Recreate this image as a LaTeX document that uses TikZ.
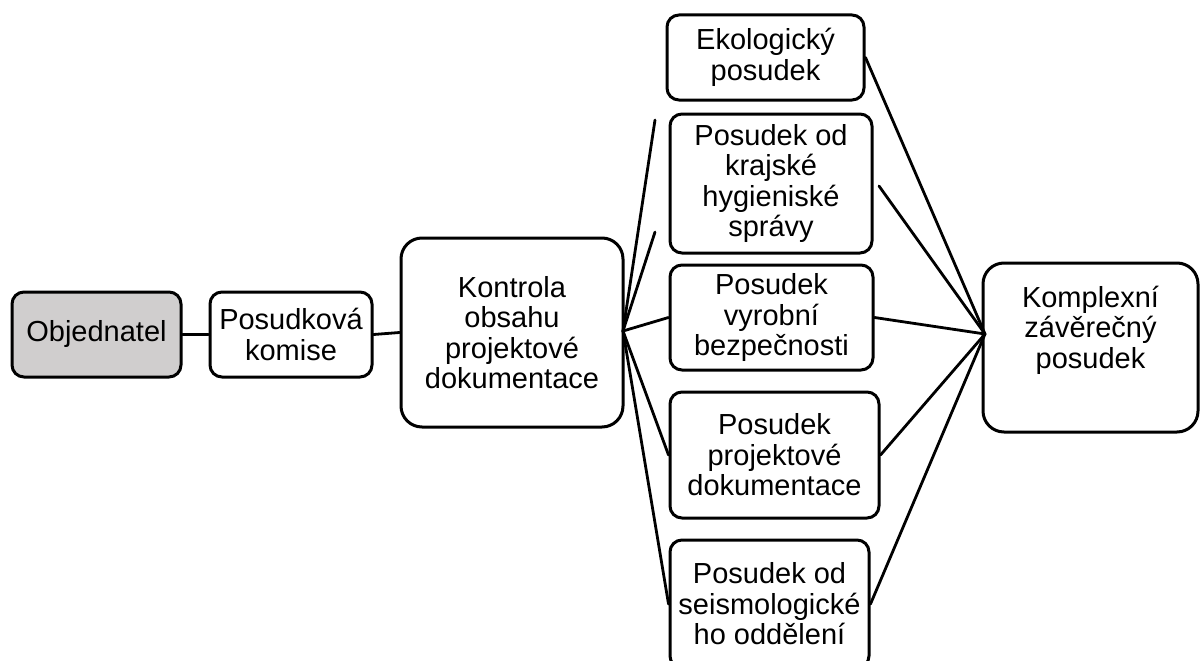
\documentclass[tikz,border=0pt]{standalone}
\usepackage{fontspec}
\setmainfont{Liberation Sans}
\begin{document}
\begin{tikzpicture}[x=1pt,y=-1pt,
  box/.style={draw=black, line width=3pt, rounded corners=12pt, fill=white,
    align=center, inner sep=0pt,
    font=\fontsize{29}{30.5}\selectfont},
  bigbox/.style={box, rounded corners=21pt},
  link/.style={line width=2.8pt, line cap=round}]
\useasboundingbox (0,0) rectangle (1200,661);
\clip (0,0) rectangle (1200,661);

% left chain
\node[box, fill={rgb,255:red,208;green,206;blue,206}, minimum width=169pt, minimum height=85pt]
  (obj) at (96.5,334.5) {Objednatel};
\node[box, minimum width=162pt, minimum height=85pt]
  (kom) at (291,334.5) {Posudková\\komise};
\node[bigbox, minimum width=222pt, minimum height=189pt]
  (kon) at (512,332.5) {Kontrola\\obsahu\\projektové\\dokumentace};

% column of partial reviews
\node[box, minimum width=197pt, minimum height=85pt]
  (eko) at (765.5,57.5) {Ekologický\\posudek};
\node[box, minimum width=202pt, minimum height=139pt]
  (kra) at (771,183.5) {Posudek od\\krajské\\hygieniské\\správy};
\node[box, minimum width=203pt, minimum height=105pt]
  (vyr) at (771.5,317.5) {Posudek\\vyrobní\\bezpečnosti};
\node[box, minimum width=209pt, minimum height=126pt]
  (pro) at (774.5,455) {Posudek\\projektové\\dokumentace};
\node[box, minimum width=199pt, minimum height=128pt]
  (sei) at (769.5,604) {Posudek od\\seismologické\\ho oddělení};

% final review
\node[bigbox, minimum width=215pt, minimum height=169pt]
  (cmp) at (1090.5,347.5) {Komplexní\\závěrečný\\posudek\\[10pt]};

% junction points and free line ends
\coordinate (hubL) at (623,331);
\coordinate (hubR) at (985,334);
\coordinate (kraL1) at (655,120);
\coordinate (kraL2) at (655,232);
\coordinate (kraR) at (879,186);

\draw[link] (obj.east) -- (kom.west);
\draw[link] (kom.east) -- (kon.west);

\draw[link] (hubL) -- (kraL1);
\draw[link] (hubL) -- (kraL2);
\draw[link] (hubL) -- (vyr.west);
\draw[link] (hubL) -- (pro.west);
\draw[link] (hubL) -- (sei.west);

\draw[link] (eko.east) -- (hubR);
\draw[link] (kraR) -- (hubR);
\draw[link] (vyr.east) -- (hubR);
\draw[link] (pro.east) -- (hubR);
\draw[link] (sei.east) -- (hubR);
\end{tikzpicture}
\end{document}
